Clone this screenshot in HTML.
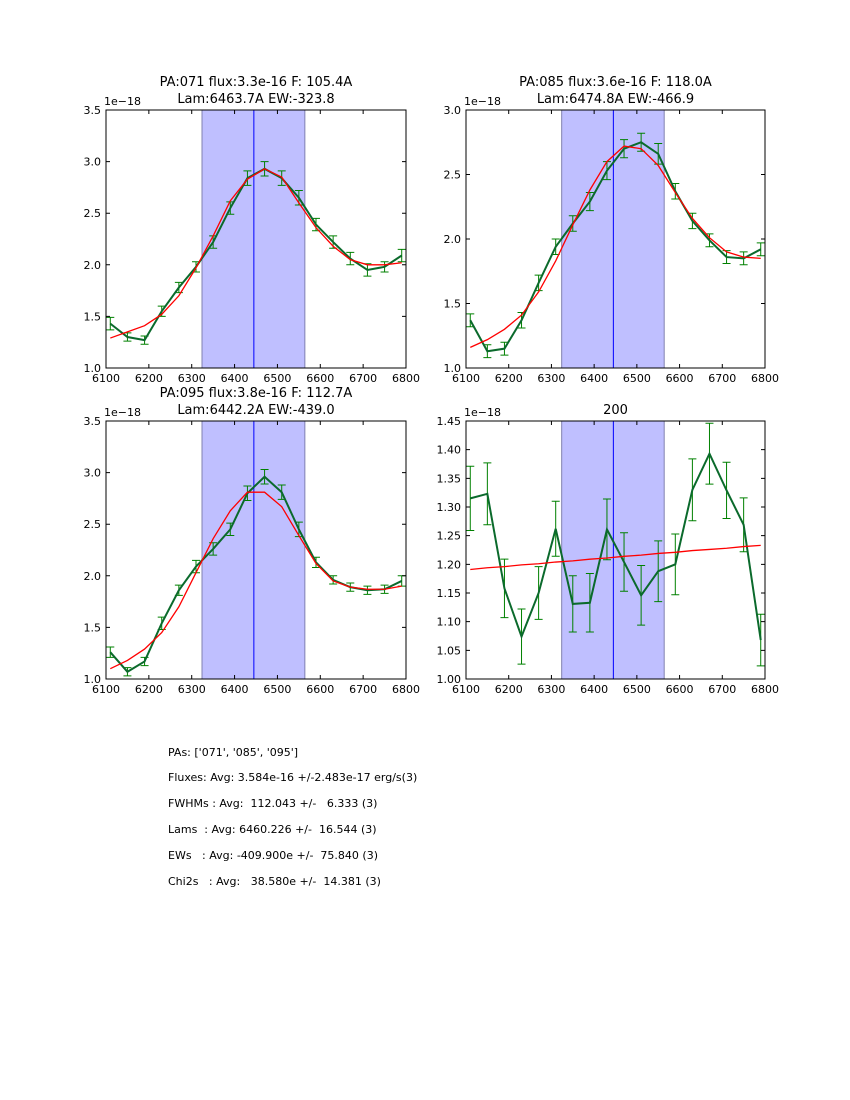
<!DOCTYPE html>
<html><head><meta charset="utf-8"><style>
body{margin:0;background:#fff;}
svg{display:block;font-family:"DejaVu Sans","Liberation Sans",sans-serif;}
</style></head><body>
<svg id="c" width="850" height="1100" viewBox="0 0 850 1100">
<g font-size="11" fill="#000">
<text x="168" y="756">PAs: ['071', '085', '095']</text>
<text x="168" y="781">Fluxes: Avg: 3.584e-16 +/-2.483e-17 erg/s(3)</text>
<text x="168" y="807" xml:space="preserve">FWHMs : Avg:  112.043 +/-   6.333 (3)</text>
<text x="168" y="833" xml:space="preserve">Lams  : Avg: 6460.226 +/-  16.544 (3)</text>
<text x="168" y="859" xml:space="preserve">EWs   : Avg: -409.900e +/-  75.840 (3)</text>
<text x="168" y="885" xml:space="preserve">Chi2s   : Avg:   38.580e +/-  14.381 (3)</text>
</g>
</svg>
<script>
const xs=[6110,6150,6190,6230,6270,6310,6350,6390,6430,6470,6510,6550,6590,6630,6670,6710,6750,6790];
const g1=[1.43,1.30,1.27,1.55,1.78,1.98,2.22,2.55,2.84,2.93,2.84,2.65,2.39,2.22,2.06,1.95,1.98,2.09];
const r1=[1.29,1.35,1.41,1.52,1.70,1.97,2.28,2.62,2.83,2.93,2.85,2.60,2.36,2.18,2.05,2.00,2.00,2.02];
const e1=[0.06,0.04,0.04,0.05,0.05,0.05,0.06,0.06,0.07,0.07,0.07,0.07,0.06,0.06,0.06,0.06,0.05,0.06];
const g2=[1.37,1.13,1.15,1.37,1.66,1.94,2.12,2.29,2.53,2.70,2.75,2.66,2.37,2.14,1.99,1.86,1.85,1.92];
const r2=[1.16,1.22,1.30,1.41,1.59,1.83,2.11,2.38,2.60,2.72,2.70,2.57,2.36,2.16,2.01,1.90,1.86,1.85];
const e2=[0.05,0.05,0.05,0.06,0.06,0.06,0.06,0.07,0.07,0.07,0.07,0.08,0.06,0.06,0.05,0.05,0.05,0.05];
const g3=[1.26,1.07,1.17,1.54,1.86,2.09,2.26,2.45,2.80,2.96,2.81,2.45,2.13,1.96,1.89,1.86,1.87,1.95];
const r3=[1.10,1.18,1.29,1.45,1.70,2.03,2.36,2.63,2.81,2.81,2.67,2.39,2.12,1.95,1.89,1.87,1.87,1.90];
const e3=[0.05,0.04,0.04,0.06,0.05,0.06,0.06,0.06,0.07,0.07,0.07,0.07,0.05,0.04,0.04,0.04,0.04,0.05];
const g4=[1.315,1.323,1.158,1.074,1.150,1.262,1.131,1.133,1.261,1.204,1.146,1.188,1.200,1.330,1.393,1.329,1.269,1.068];
const r4=[1.191,1.194,1.196,1.199,1.201,1.204,1.206,1.209,1.211,1.214,1.216,1.219,1.221,1.224,1.226,1.228,1.231,1.233];
const e4=[0.056,0.054,0.051,0.048,0.046,0.048,0.049,0.051,0.053,0.051,0.052,0.053,0.053,0.054,0.053,0.049,0.047,0.045];
const xTicks=[6100,6200,6300,6400,6500,6600,6700,6800];
const yT1=[1.0,1.5,2.0,2.5,3.0,3.5];
const yT2=[1.0,1.5,2.0,2.5,3.0];
const yT4=[1.00,1.05,1.10,1.15,1.20,1.25,1.30,1.35,1.40,1.45];
const shade=[6324,6564];
const lam=6445;
const titles=[["PA:071 flux:3.3e-16 F: 105.4A","Lam:6463.7A EW:-323.8"],["PA:085 flux:3.6e-16 F: 118.0A","Lam:6474.8A EW:-466.9"],["PA:095 flux:3.8e-16 F: 112.7A","Lam:6442.2A EW:-439.0"],["200"]];
const NS="http://www.w3.org/2000/svg";
const svg=document.getElementById('c');
function mk(t,a,p){const e=document.createElementNS(NS,t);for(const k in a)e.setAttribute(k,a[k]);(p||svg).appendChild(e);return e;}
const panels=[
 {x0:106,x1:406,y0:110,y1:368,ymin:1,ymax:3.5,yt:yT1,g:g1,r:r1,e:e1,dec:1},
 {x0:466,x1:765,y0:110,y1:368,ymin:1,ymax:3.0,yt:yT2,g:g2,r:r2,e:e2,dec:1},
 {x0:106,x1:406,y0:421,y1:679,ymin:1,ymax:3.5,yt:yT1,g:g3,r:r3,e:e3,dec:1},
 {x0:466,x1:765,y0:421,y1:679,ymin:1,ymax:1.45,yt:yT4,g:g4,r:r4,e:e4,dec:2}];
panels.forEach((P,i)=>{
 const grp=mk('g',{});
 
 
 const X=v=>P.x0+(v-6100)/700*(P.x1-P.x0);
 const Y=v=>P.y1-(v-P.ymin)/(P.ymax-P.ymin)*(P.y1-P.y0);
 const sh=mk('rect',{x:X(shade[0]),y:P.y0,width:X(shade[1])-X(shade[0]),height:P.y1-P.y0,fill:'#bfbfff',stroke:'#8080b0','stroke-width':1},grp);
 
 
 const ln=mk('line',{x1:X(lam),x2:X(lam),y1:P.y0,y2:P.y1,stroke:'#0000ff','stroke-width':1},grp);
 
 
 xs.forEach((xv,j)=>{
  const x=X(xv),a=Y(P.g[j]-P.e[j]),b=Y(P.g[j]+P.e[j]);
  const eb=mk('path',{d:`M${x},${a}V${b}M${x-4},${a}H${x+4}M${x-4},${b}H${x+4}`,stroke:'#008000','stroke-width':1,fill:'none'},grp);
  
  
 });
 const gd=xs.map((xv,j)=>(j?'L':'M')+X(xv)+','+Y(P.g[j])).join('');
 const gl=mk('path',{d:gd,stroke:'#0b6a2c','stroke-width':2,fill:'none'},grp);
 
 
 const rd=xs.map((xv,j)=>(j?'L':'M')+X(xv)+','+Y(P.r[j])).join('');
 const rl=mk('path',{d:rd,stroke:'#ff0000','stroke-width':1.3,fill:'none'},grp);
 
 
 const fr=mk('rect',{x:P.x0,y:P.y0,width:P.x1-P.x0,height:P.y1-P.y0,fill:'none',stroke:'#000','stroke-width':1},grp);
 
 
 xTicks.forEach(t=>{
  const x=X(t);
  mk('path',{d:`M${x},${P.y1}v-4M${x},${P.y0}v4`,stroke:'#000','stroke-width':1},grp);
  const tx=mk('text',{x:x,y:P.y1+14,'font-size':11,'text-anchor':'middle'},grp);
  tx.textContent=t;
  
  
 });
 P.yt.forEach(t=>{
  const y=Y(t);
  mk('path',{d:`M${P.x0},${y}h4M${P.x1},${y}h-4`,stroke:'#000','stroke-width':1},grp);
  const tx=mk('text',{x:P.x0-5,y:y+4,'font-size':11,'text-anchor':'end'},grp);
  tx.textContent=t.toFixed(P.dec);
  
  
 });
 const ex=mk('text',{x:P.x0-2,y:P.y0-5,'font-size':11},grp);
 ex.textContent='1e\u221218';
 
 
 const cx=(P.x0+P.x1)/2;
 const T=titles[i];
 T.forEach((s,k)=>{
  const tt=mk('text',{x:cx,y:P.y0-(T.length-k)*17+10,'font-size':13,'text-anchor':'middle'},grp);
  tt.textContent=s;
  
  
 });
});
</script>
</body></html>
